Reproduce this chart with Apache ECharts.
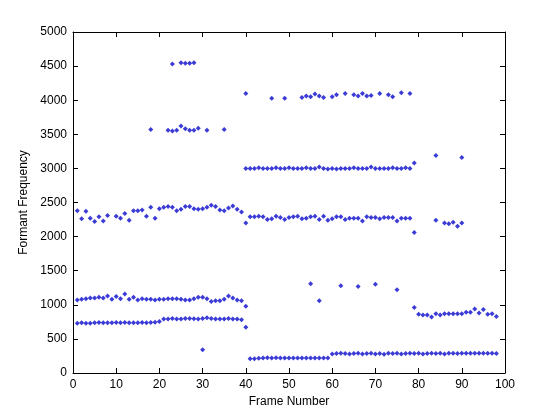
<!DOCTYPE html>
<html>
<head>
<meta charset="utf-8">
<script src="https://cdn.jsdelivr.net/npm/echarts@6/dist/echarts.min.js"></script>
<style>html,body{margin:0;padding:0;background:#fff}#c{width:560px;height:420px}</style>
</head>
<body>
<div id="c"></div>
<script>
// formant tracks, value per frame (frame number = index + 1), null where no value
var f1 = [730,735,730,730,735,740,735,735,735,740,735,740,735,735,735,740,735,740,745,755,
  790,790,800,790,790,800,800,795,790,800,810,800,790,790,790,800,790,790,780,670,
  210,210,215,220,225,220,225,220,220,220,220,220,220,220,220,220,220,220,220,
  280,285,290,285,280,285,290,280,285,290,280,285,275,290,285,290,280,285,290,285,
  290,280,285,290,285,290,280,290,290,285,290,290,290,290,290,290,290,290,285];
var f2 = [1070,1080,1090,1100,1100,1110,1100,1130,1080,1120,1090,1160,1080,1110,1070,1090,1080,1080,1070,1080,
  1080,1090,1090,1090,1080,1070,1070,1090,1110,1110,1090,1050,1060,1060,1080,1130,1100,1070,1060,980];
var f3 = [2380,2260,2370,2270,2220,2290,2230,2310,null,2300,2270,2340,2240,2380,2380,2390,2300,2430,2270,2410,
  2430,2440,2430,2380,2400,2440,2440,2410,2400,2410,2430,2460,2440,2390,2380,2420,2450,2400,2360,2200,
  2290,2290,2300,2290,2250,2260,2300,2280,2250,2280,2290,2300,2260,2270,2290,2300,2250,2300,2240,2260,
  2290,2290,2250,2270,2270,2270,2230,2290,2280,2280,2260,2280,2280,2280,2230,2270,2270,2270];
// f4 and f5 start at frame 40
var f4 = [3000,3000,3000,3010,3000,3000,3000,3010,3000,3000,3010,3000,3000,3000,3010,3000,3000,3020,3000,2990,
  3000,2990,3000,3000,3000,3010,3000,3000,3000,3020,3000,3000,3000,3000,3010,3000,3000,3010,3000,3080];
var f5 = [4100,null,null,null,null,null,4030,null,null,4030,null,null,null,4040,4060,4050,4090,4060,4040,null,
  4050,4080,null,4100,null,4080,4060,4100,4060,4070,null,4100,null,4080,4050,null,4110,null,4100];
// scattered extra estimates [frame, Hz]
var extra = [[18,3570],[22,3560],[23,3550],[24,3560],[25,3620],[26,3580],[27,3560],[28,3560],[29,3590],[31,3560],[35,3570],
  [23,4530],[25,4550],[26,4540],[27,4540],[28,4550],[30,340],
  [55,1310],[57,1060],[62,1280],[66,1270],[70,1300],[75,1220],
  [79,960],[80,860],[81,850],[82,850],[83,820],[84,870],[85,850],[86,870],[87,870],[88,870],[89,870],[90,870],
  [91,890],[92,890],[93,940],[94,880],[95,930],[96,860],[97,870],[98,830],
  [79,2060],[84,2240],[86,2200],[87,2190],[88,2210],[89,2150],[90,2200],[84,3190],[90,3160]];

function pts(arr, start) {
  var out = [];
  for (var i = 0; i < arr.length; i++) if (arr[i] != null) out.push([start + i, arr[i]]);
  return out;
}
var all = [].concat(pts(f1,1), pts(f2,1), pts(f3,1), pts(f4,40), pts(f5,40), extra);

var font = { fontFamily: 'Liberation Sans', fontSize: 12, color: '#000' };
function ax(type, max, interval, pos, showLabel, name, gap) {
  return {
    type: 'value', min: 0, max: max, interval: interval, position: pos,
    name: name, nameLocation: 'middle', nameGap: gap, nameTextStyle: font,
    axisLine: { show: true, onZero: false, lineStyle: { color: '#000' } },
    axisTick: { inside: true, length: 5, lineStyle: { color: '#000' } },
    axisLabel: Object.assign({ show: showLabel, margin: 6, formatter: function (v) { return String(v); } }, font),
    splitLine: { show: false }
  };
}

var chart = echarts.init(document.getElementById('c'));
chart.setOption({
  animation: false,
  grid: { left: 73, right: 55, top: 32, bottom: 47 },
  xAxis: [ax('x', 100, 10, 'bottom', true, 'Frame Number', 22), ax('x', 100, 10, 'top', false, '', 0)],
  yAxis: [ax('y', 5000, 500, 'left', true, 'Formant Frequency', 40), ax('y', 5000, 500, 'right', false, '', 0)],
  series: [{
    type: 'scatter', data: all, symbol: 'diamond', symbolSize: 5,
    itemStyle: { color: '#0a0acc' }
  }]
});
</script>
</body>
</html>
